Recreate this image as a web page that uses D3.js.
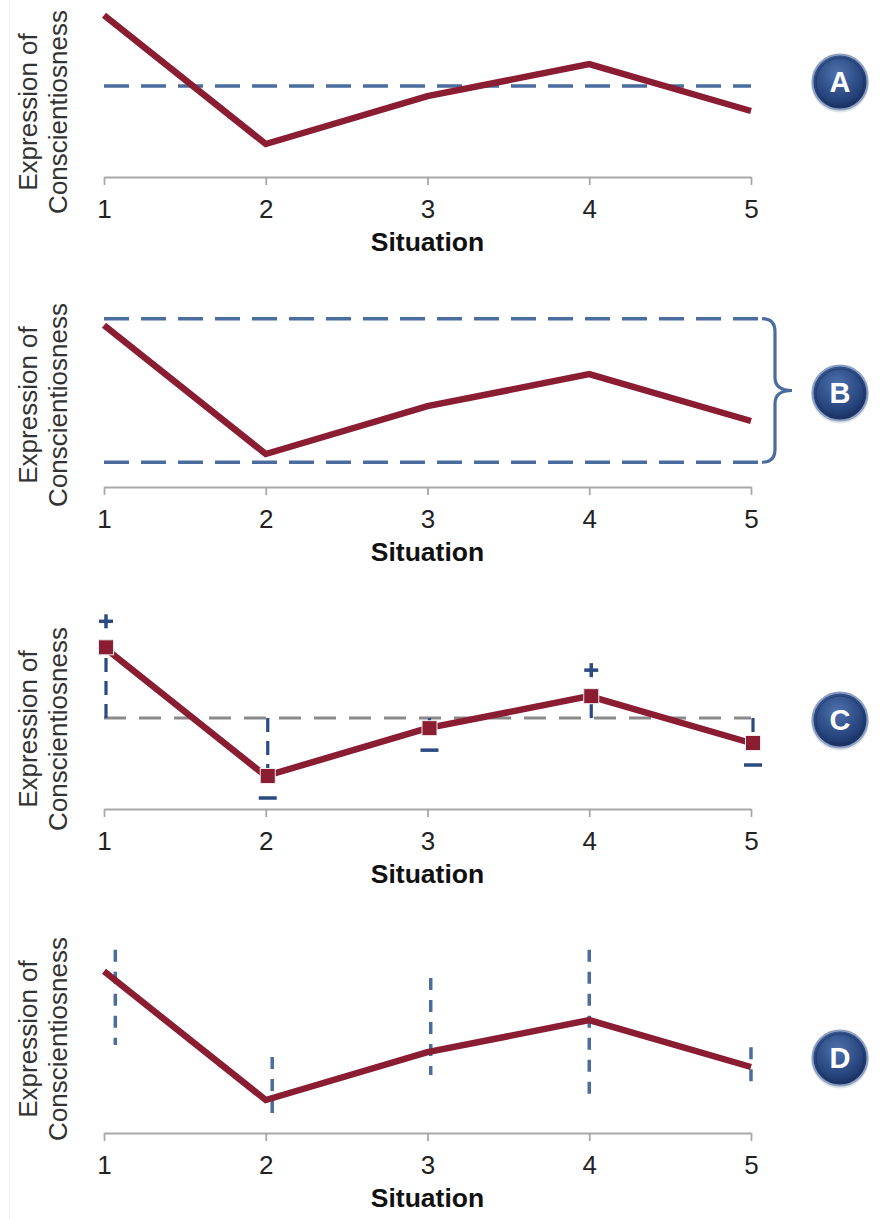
<!DOCTYPE html>
<html><head><meta charset="utf-8">
<script src="https://cdn.jsdelivr.net/npm/d3@7"></script>
<style>body{margin:0;background:#fff}svg{display:block}text{font-family:"Liberation Sans",Arial,sans-serif}</style>
</head><body>
<script>
const situations = [1, 2, 3, 4, 5];
const expression = [4.9, 1.0, 2.45, 3.42, 2.0];
const rangeBounds = [0.75, 5.1];          // panel B band (low, high)
const dPositions = [1.07, 2.04, 3.02, 4.0, 5.0]; // panel D dash x positions
const dLow = [2.67, 0.4, 1.76, 1.09, 1.36];
const dHigh = [5.55, 2.3, 4.7, 5.55, 2.6];
const panelLetters = ["A", "B", "C", "D"];
const xTitle = "Situation";
const yTitle = ["Expression of", "Conscientiosness"];

const W = 885, H = 1219;
const svg = d3.select("body").append("svg").attr("width", W).attr("height", H);
const defs = svg.append("defs");
const grad = defs.append("radialGradient").attr("id", "badge").attr("cx", "45%").attr("cy", "35%").attr("r", "65%");
grad.append("stop").attr("offset", "0%").attr("stop-color", "#4f71ad");
grad.append("stop").attr("offset", "70%").attr("stop-color", "#27457e");
grad.append("stop").attr("offset", "100%").attr("stop-color", "#1a3060");

svg.append("line").attr("x1", 9.5).attr("x2", 9.5).attr("y1", 0).attr("y2", H).attr("stroke", "#f0f0f0");

const RED = "#8b1d33", BLUE = "#4a6c9f", NAVY = "#2b4a82";
const x = d3.scaleLinear().domain([1, 5]).range([104, 751]);

const panels = [
  {axisY: 177, labelC: 112, badgeY: 82},
  {axisY: 487, labelC: 405, badgeY: 393},
  {axisY: 809, labelC: 729, badgeY: 720},
  {axisY: 1133, labelC: 1039, badgeY: 1058}
];

panels.forEach((p, i) => {
  const g = svg.append("g");
  const y = d3.scaleLinear().domain([0, 5]).range([p.axisY, p.axisY - 165]);
  const mean = d3.mean(expression);

  // axis
  const ax = g.append("g").attr("transform", `translate(0,${p.axisY})`)
    .call(d3.axisBottom(x).tickValues(situations).tickFormat(d3.format("d")).tickSize(8).tickSizeOuter(0));
  ax.select(".domain").attr("stroke", "#a8a8a8").attr("stroke-width", 2.2);
  ax.selectAll(".tick line").attr("stroke", "#a8a8a8").attr("stroke-width", 1.8);
  ax.selectAll(".tick text").attr("font-size", 26).attr("fill", "#222").attr("dy", "1.15em")
    .attr("font-family", "Liberation Sans, Arial, sans-serif");
  g.append("text").attr("x", x(3)).attr("y", p.axisY + 74).attr("text-anchor", "middle")
    .attr("font-size", 26.5).attr("font-weight", "bold").attr("fill", "#111").text(xTitle);

  // y title
  yTitle.forEach((t, k) => {
    g.append("text").attr("transform", `translate(${37 + k * 30},${p.labelC}) rotate(-90)`)
      .attr("text-anchor", "middle").attr("font-size", 26).attr("fill", "#333").text(t);
  });

  const lineGen = d3.line().x((d, j) => x(situations[j])).y(d => y(d));

  if (i === 0) {
    g.append("line").attr("x1", x(1)).attr("x2", x(5)).attr("y1", y(mean)).attr("y2", y(mean))
      .attr("stroke", BLUE).attr("stroke-width", 3.5).attr("stroke-dasharray", "25 12");
  }
  if (i === 1) {
    const xEnd = 762, bx = 775, tip = 792;
    rangeBounds.forEach(v => {
      g.append("line").attr("x1", x(1)).attr("x2", xEnd).attr("y1", y(v)).attr("y2", y(v))
        .attr("stroke", BLUE).attr("stroke-width", 3.5).attr("stroke-dasharray", "25 12");
    });
    const yt = y(rangeBounds[1]), yb = y(rangeBounds[0]), ym = (yt + yb) / 2;
    g.append("path").attr("fill", "none").attr("stroke", BLUE).attr("stroke-width", 3.2)
      .attr("d", `M${xEnd},${yt} Q${bx},${yt} ${bx},${yt + 13} L${bx},${ym - 13} Q${bx},${ym} ${tip},${ym} Q${bx},${ym} ${bx},${ym + 13} L${bx},${yb - 13} Q${bx},${yb} ${xEnd},${yb}`);
  }
  if (i === 2) {
    g.append("line").attr("x1", x(1)).attr("x2", x(5)).attr("y1", y(mean)).attr("y2", y(mean))
      .attr("stroke", "#8a8a8a").attr("stroke-width", 3).attr("stroke-dasharray", "22 13");
    expression.forEach((v, j) => {
      g.append("line").attr("x1", x(situations[j]) + 2).attr("x2", x(situations[j]) + 2)
        .attr("y1", y(mean)).attr("y2", y(v))
        .attr("stroke", NAVY).attr("stroke-width", 3.2).attr("stroke-dasharray", "14 9");
    });
  }
  if (i === 3) {
    dPositions.forEach((px, j) => {
      g.append("line").attr("x1", x(px)).attr("x2", x(px)).attr("y1", y(dHigh[j])).attr("y2", y(dLow[j]))
        .attr("stroke", BLUE).attr("stroke-width", 3.5).attr("stroke-dasharray", "12 10");
    });
  }

  g.append("path").datum(expression).attr("d", lineGen).attr("fill", "none")
    .attr("stroke", RED).attr("stroke-width", 6.5).attr("stroke-linejoin", "miter");

  if (i === 2) {
    expression.forEach((v, j) => {
      const cx = x(situations[j]) + 2, cy = y(v);
      g.append("rect").attr("x", cx - 7.5).attr("y", cy - 7.5).attr("width", 15).attr("height", 15)
        .attr("fill", RED).attr("stroke", "#f4e8ea").attr("stroke-width", 1);
      if (v > mean) {
        const sy = cy - 26;
        g.append("line").attr("x1", cx - 7).attr("x2", cx + 7).attr("y1", sy).attr("y2", sy).attr("stroke", NAVY).attr("stroke-width", 3.5);
        g.append("line").attr("x1", cx).attr("x2", cx).attr("y1", sy - 7).attr("y2", sy + 7).attr("stroke", NAVY).attr("stroke-width", 3.5);
      } else {
        const sy = cy + 22;
        g.append("line").attr("x1", cx - 9).attr("x2", cx + 9).attr("y1", sy).attr("y2", sy).attr("stroke", NAVY).attr("stroke-width", 3.5);
      }
    });
  }

  // badge
  const b = g.append("g").attr("transform", `translate(840,${p.badgeY})`);
  b.append("circle").attr("r", 29).attr("cy", 1.5).attr("fill", "#c9d0dc").attr("opacity", 0.6);
  b.append("circle").attr("r", 27.5).attr("fill", "url(#badge)").attr("stroke", "#8da0c4").attr("stroke-width", 2);
  b.append("circle").attr("r", 24).attr("fill", "none").attr("stroke", "#1a2f5e").attr("stroke-width", 1).attr("opacity", 0.6);
  b.append("text").attr("text-anchor", "middle").attr("dy", "0.36em").attr("font-size", 29)
    .attr("font-weight", "bold").attr("fill", "#fff").text(panelLetters[i]);
});
</script>
</body></html>
